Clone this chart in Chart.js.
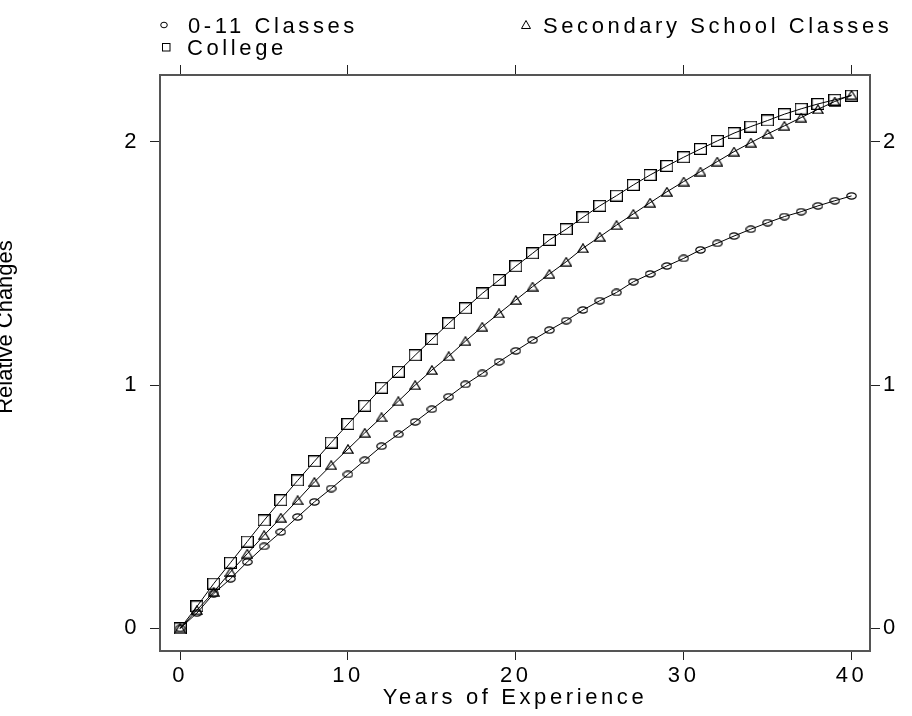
<!DOCTYPE html>
<html>
<head>
<meta charset="utf-8">
<script src="https://cdn.jsdelivr.net/npm/chart.js@4.4.0/dist/chart.umd.min.js"></script>
<style>
  body { margin: 0; background: #fff; }
  #wrap { width: 912px; height: 716px; }
</style>
</head>
<body>
<div id="wrap"><canvas id="grafico"></canvas></div>
<script>
const anos = [0, 1, 2, 3, 4, 5, 6, 7, 8, 9, 10, 11, 12, 13, 14, 15, 16, 17, 18, 19, 20,
  21, 22, 23, 24, 25, 26, 27, 28, 29, 30, 31, 32, 33, 34, 35, 36, 37, 38, 39, 40];

const classes011 = [0, 0.063, 0.143, 0.204, 0.273, 0.337, 0.396, 0.458, 0.52, 0.575, 0.633,
  0.691, 0.749, 0.798, 0.849, 0.901, 0.952, 1.003, 1.048, 1.096, 1.141,
  1.185, 1.226, 1.265, 1.309, 1.347, 1.381, 1.425, 1.457, 1.49, 1.521,
  1.556, 1.583, 1.613, 1.641, 1.668, 1.693, 1.713, 1.737, 1.758, 1.778];

const secundaria = [0, 0.075, 0.15, 0.232, 0.307, 0.383, 0.455, 0.527, 0.602, 0.671, 0.737,
  0.804, 0.868, 0.934, 1.0, 1.062, 1.119, 1.181, 1.24, 1.295, 1.35,
  1.405, 1.457, 1.507, 1.563, 1.61, 1.658, 1.704, 1.75, 1.795, 1.837,
  1.878, 1.919, 1.96, 1.997, 2.033, 2.066, 2.1, 2.134, 2.166, 2.193];

const faculdade = [0, 0.09, 0.184, 0.27, 0.357, 0.444, 0.527, 0.608, 0.687, 0.764, 0.84,
  0.915, 0.989, 1.055, 1.123, 1.189, 1.254, 1.316, 1.377, 1.432, 1.489,
  1.542, 1.597, 1.641, 1.69, 1.737, 1.779, 1.823, 1.864, 1.901, 1.937,
  1.971, 2.004, 2.036, 2.063, 2.088, 2.114, 2.136, 2.156, 2.173, 2.19];

const ticksX = [0, 10, 20, 30, 40];
const ticksY = [0, 1, 2];
const nomes = ["0-11 Classes", "Secondary School Classes", "College"];
const tituloX = "Years of Experience";
const tituloY = "Relative Changes";

const FONTE = "'Liberation Sans', Arial, Helvetica, sans-serif";
const ESPACO = "3.6px";

// marcadores vazados desenhados num canvas pequeno
function marcador(tipo, w, h) {
  const c = document.createElement("canvas");
  c.width = w; c.height = h;
  const g = c.getContext("2d");
  g.strokeStyle = "#000";
  g.lineWidth = 1.2;
  g.beginPath();
  if (tipo === "elipse") {
    g.ellipse(w / 2, h / 2, w / 2 - 0.8, h / 2 - 0.8, 0, 0, Math.PI * 2);
  } else if (tipo === "triangulo") {
    g.moveTo(w / 2, 0.8);
    g.lineTo(w - 0.8, h - 0.8);
    g.lineTo(0.8, h - 0.8);
    g.closePath();
  } else {
    g.rect(0.6, 0.6, w - 1.2, h - 1.2);
  }
  g.stroke();
  return c;
}

const mCirculo = marcador("elipse", 11, 8);
const mTriangulo = marcador("triangulo", 12, 10);
const mQuadrado = marcador("quadrado", 13, 12);

function serie(valores) {
  return anos.map((a, i) => ({ x: a, y: valores[i] }));
}

function conjunto(rotulo, valores, ponto) {
  return {
    label: rotulo,
    data: serie(valores),
    borderColor: "#000",
    borderWidth: 1,
    pointStyle: ponto,
    pointRadius: 6,
    pointHoverRadius: 6,
    fill: false,
    tension: 0
  };
}

// espaçamento entre letras como no original
const espacamento = {
  id: "espacamento",
  beforeLayout(chart) { chart.ctx.letterSpacing = ESPACO; },
  beforeDraw(chart) { chart.ctx.letterSpacing = ESPACO; }
};

// legenda em grade e título do eixo y
const extras = {
  id: "extras",
  afterDraw(chart) {
    const ctx = chart.ctx;
    ctx.save();
    ctx.letterSpacing = ESPACO;
    ctx.font = "22px " + FONTE;
    ctx.fillStyle = "#000";
    ctx.strokeStyle = "#000";
    ctx.lineWidth = 1;
    ctx.textAlign = "left";
    ctx.textBaseline = "alphabetic";
    const ds = chart.data.datasets;

    // circulo
    ctx.beginPath();
    ctx.ellipse(164, 25, 3.3, 2.8, 0, 0, Math.PI * 2);
    ctx.stroke();
    ctx.fillText(ds[0].label, 188, 33);

    // triangulo
    ctx.beginPath();
    ctx.moveTo(526, 20.5);
    ctx.lineTo(530.5, 28.5);
    ctx.lineTo(521.5, 28.5);
    ctx.closePath();
    ctx.stroke();
    ctx.fillText(ds[1].label, 543, 33);

    // quadrado
    ctx.strokeRect(162.5, 43.5, 7.5, 7.5);
    ctx.fillText(ds[2].label, 187, 55);

    // título y, cortado na borda
    ctx.letterSpacing = "0px";
    ctx.translate(12, 327);
    ctx.rotate(-Math.PI / 2);
    ctx.textAlign = "center";
    ctx.fillText(tituloY, 0, 0);
    ctx.restore();
  }
};

Chart.defaults.font.family = FONTE;
Chart.defaults.font.size = 22;
Chart.defaults.color = "#000";

const fixarX = s => { s.ticks = ticksX.map(v => ({ value: v })); };
const fixarY = s => { s.ticks = ticksY.map(v => ({ value: v })); };

const gradeBase = { drawOnChartArea: false, drawTicks: true, tickLength: 10, tickColor: "#222", tickWidth: 1 };
const bordaBase = { display: true, color: "#555", width: 2 };

new Chart(document.getElementById("grafico"), {
  type: "line",
  data: {
    datasets: [
      conjunto(nomes[0], classes011, mCirculo),
      conjunto(nomes[1], secundaria, mTriangulo),
      conjunto(nomes[2], faculdade, mQuadrado)
    ]
  },
  options: {
    responsive: true,
    maintainAspectRatio: false,
    animation: false,
    layout: { padding: 0 },
    plugins: {
      legend: { display: false },
      tooltip: { enabled: false }
    },
    scales: {
      x: {
        type: "linear",
        position: "bottom",
        min: -1.2,
        max: 41.1,
        afterBuildTicks: fixarX,
        afterFit: s => { s.height = 65; },
        grid: Object.assign({}, gradeBase, { tickLength: 9 }),
        border: bordaBase,
        ticks: { padding: 3, maxRotation: 0, autoSkip: false },
        title: { display: true, text: tituloX, padding: { top: 0, bottom: 5 } }
      },
      x2: {
        type: "linear",
        position: "top",
        min: -1.2,
        max: 41.1,
        afterBuildTicks: fixarX,
        afterFit: s => { s.height = 75; },
        grid: gradeBase,
        border: bordaBase,
        ticks: { display: false }
      },
      y: {
        type: "linear",
        position: "left",
        min: -0.093,
        max: 2.275,
        afterBuildTicks: fixarY,
        afterFit: s => { s.width = 160; },
        grid: gradeBase,
        border: bordaBase,
        ticks: { padding: 10 }
      },
      y2: {
        type: "linear",
        position: "right",
        min: -0.093,
        max: 2.275,
        afterBuildTicks: fixarY,
        afterFit: s => { s.width = 42; },
        grid: gradeBase,
        border: bordaBase,
        ticks: { padding: 3 }
      }
    }
  },
  plugins: [espacamento, extras]
});
</script>
</body>
</html>
